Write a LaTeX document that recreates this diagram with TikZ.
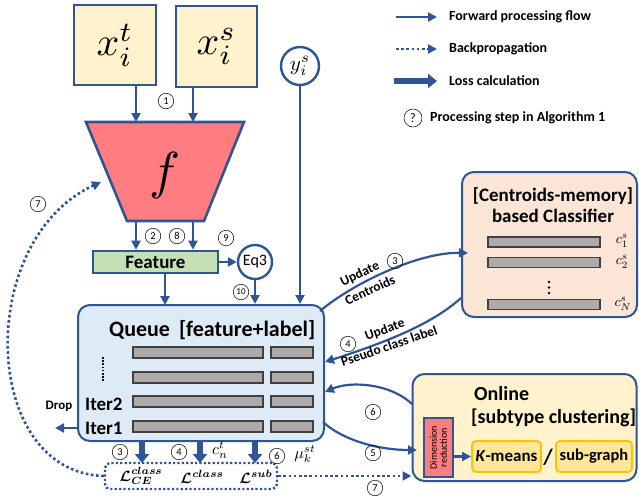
\documentclass[tikz,border=0pt]{standalone}
\usepackage{amsmath,bm}
\usepackage{graphicx}
\usepackage{fontspec}
\setmainfont{Carlito}
\usetikzlibrary{arrows.meta,calc}
\newcommand{\mysm}[2]{\scalebox{#1}{\fontsize{10}{12}\selectfont$#2$}}
\definecolor{myblue}{HTML}{2F5597}
\definecolor{cream}{HTML}{FFF2CC}
\definecolor{salmon}{HTML}{FF7C80}
\definecolor{featgreen}{HTML}{C5E0B4}
\definecolor{qblue}{HTML}{DEEBF7}
\definecolor{peach}{HTML}{FBE5D6}
\definecolor{goldfill}{HTML}{FFE699}
\definecolor{goldline}{HTML}{FFC000}
\definecolor{barfill}{HTML}{AEAAAA}
\definecolor{barline}{HTML}{404040}
\tikzset{
  box/.style={draw=myblue, line width=2.6pt},
  rbox/.style={draw=myblue, line width=2pt, rounded corners=12pt},
  fwd/.style={draw=myblue, line width=2.2pt, -{Triangle[width=9pt,length=9pt]}},
  back/.style={draw=myblue, line width=2.6pt, dash pattern=on 2.6pt off 2.6pt, -{Triangle[width=9pt,length=9pt]}},
  loss/.style={draw=myblue, line width=6pt, -{Triangle[width=14pt,length=9pt]}},
  stepnum/.style={circle, draw=black, line width=0.5pt, minimum size=15.5pt, inner sep=0pt, font=\fontsize{10.5}{10.5}\selectfont},
  bar/.style={draw=barline, fill=barfill, line width=1.6pt, inner sep=0pt},
  btext/.style={font=\bfseries\fontsize{#1}{#1}\selectfont},
  btext/.default=14,
  mtext/.style={inner sep=0pt}
}
\begin{document}
\begin{tikzpicture}[x=1pt,y=-1pt]
\useasboundingbox (0,0) rectangle (639,499);

% inputs
\node[box, fill=cream, minimum width=82pt, minimum height=80pt] (xt) at (115,45) {\mysm{4}{x_i^t}};
\node[box, fill=cream, minimum width=81pt, minimum height=81pt] (xs) at (216.5,46.5) {\mysm{4}{x_i^s}};
\node[circle, draw=myblue, line width=2.4pt, fill=white, minimum size=38pt, inner sep=0pt] (ys) at (300,66) {\mysm{2.1}{y_i^s}};

% trapezoid f
\coordinate (ftl) at (86,122); \coordinate (ftr) at (244,122);
\coordinate (fbr) at (204,221); \coordinate (fbl) at (127,221);
\draw[box, fill=salmon, line join=miter] (ftl) -- (ftr) -- (fbr) -- (fbl) -- cycle;
\node (f) at (165,175) {\mysm{5.2}{f}};
\coordinate (ftA) at (136,122); \coordinate (ftB) at (193,122);
\coordinate (fbA) at (136,221); \coordinate (fbB) at (193,221);

\draw[fwd] (xt.south -| ftA) -- (ftA);
\draw[fwd] (xs.south -| ftB) -- (ftB);

% feature and Eq3
\node[box, fill=featgreen, minimum width=125pt, minimum height=22pt, inner sep=0pt, btext=19] (feat) at (155.5,262) {Feature};
\node[circle, draw=myblue, line width=2.4pt, fill=white, minimum size=34pt, inner sep=0pt, font=\fontsize{16}{16}\selectfont] (eq3) at (255,262) {Eq3};
\draw[fwd] (fbA) -- (fbA |- feat.north);
\draw[fwd] (fbB) -- (fbB |- feat.north);
\draw[fwd] (feat.east) -- (eq3.west);

% queue
\node[rbox, fill=qblue, minimum width=246pt, minimum height=136pt] (queue) at (201,373) {};
\node[btext=22, anchor=west, inner sep=0pt] (qtitle) at (109,330) {Queue\hspace{9pt}[feature+label]};
\coordinate (qa) at (165,305);
\draw[fwd] (feat.south -| qa) -- (qa);
\draw[fwd] (eq3.south) -- (eq3.south |- queue.north);
\draw[fwd] (ys.south) -- (ys.south |- queue.north);

\foreach \y/\n in {352.5/1,377.5/2,401.5/3,426.5/4}{
  \node[bar, minimum width=130pt, minimum height=11pt] (qbl\n) at (198,\y) {};
  \node[bar, minimum width=42pt, minimum height=11pt] (qbr\n) at (292,\y) {};
}
\draw[black, line width=2pt, dash pattern=on 1.6pt off 1.6pt] (103,357) -- (103,382);
\node[btext=19, anchor=west, inner sep=0pt] (it2) at (85,404) {Iter2};
\node[btext=19, anchor=west, inner sep=0pt] (it1) at (85,428) {Iter1};
\node[btext=13, inner sep=0pt] (drop) at (59,406) {Drop};
\coordinate (dropend) at (55,428);
\draw[fwd] (queue.west |- it1) -- (dropend);

% losses
\node[draw=myblue, line width=2.4pt, dash pattern=on 2.2pt off 2.2pt, rounded corners=5pt, minimum width=172pt, minimum height=26pt] (lossbox) at (191,476) {};
\node[mtext] (lce) at (141,476) {\mysm{1.5}{\bm{\mathcal{L}_{CE}^{class}}}};
\node[mtext] (lcl) at (202,477) {\mysm{1.5}{\bm{\mathcal{L}^{class}}}};
\node[mtext] (lsub) at (256,477) {\mysm{1.5}{\bm{\mathcal{L}^{sub}}}};
\coordinate (la) at (142,463); \coordinate (lb) at (200,463); \coordinate (lc) at (255,463);
\draw[loss] (queue.south -| la) -- (la);
\draw[loss] (queue.south -| lb) -- (lb);
\draw[loss] (queue.south -| lc) -- (lc);
\node[stepnum] (s3b) at (120,452) {3};
\node[stepnum] (s4b) at (179,452) {4};
\node[mtext] (cnt) at (220,450) {\mysm{1.6}{c_n^t}};
\node[stepnum] (s6b) at (277,456) {6};
\node[mtext] (mu) at (305,454) {\mysm{1.6}{\mu_k^{st}}};

% classifier
\node[rbox, fill=peach, minimum width=175pt, minimum height=145pt] (cls) at (549.5,244.5) {};
\node[btext=19, align=center] (clstitle) at (553,205) {[Centroids-memory]\\[2pt]based Classifier};
\node[bar, minimum width=112pt, minimum height=10pt] (cb1) at (544,242) {};
\node[bar, minimum width=112pt, minimum height=10pt] (cb2) at (544,262.5) {};
\node[bar, minimum width=112pt, minimum height=10pt] (cb3) at (544,304.5) {};
\node[mtext] (c1) at (622,241) {\mysm{1.4}{c_1^s}};
\node[mtext] (c2) at (622,262) {\mysm{1.4}{c_2^s}};
\node[mtext] (cN) at (623,304) {\mysm{1.4}{c_N^s}};
\foreach \y in {282,287.5,293} \fill[black] (549,\y) circle (1.3pt);

% online clustering
\node[rbox, fill=cream, minimum width=224pt, minimum height=107pt] (online) at (524.5,427.5) {};
\node[btext=20, anchor=west, inner sep=0pt] (ontitle) at (474,394) {Online};
\node[btext=20, anchor=west, inner sep=0pt] (onsub) at (471,418) {[subtype clustering]};
\node[draw=myblue, line width=1.8pt, fill=salmon, minimum width=29pt, minimum height=59pt, inner sep=0pt] (dim) at (438.5,447.5) {};
\node[rotate=90, align=center, inner sep=0pt, font=\fontsize{10}{10}\selectfont] (dimt) at (438.5,447.5) {Dimension\\reduction};
\node[draw=goldline, fill=goldfill, line width=1.8pt, rounded corners=4pt, minimum width=69pt, minimum height=31pt, inner sep=0pt, btext=17] (km) at (506.5,456.5) {\textit{K}-means};
\node[btext=22, inner sep=0pt] (slash) at (548,457) {/};
\node[draw=goldline, fill=goldfill, line width=1.8pt, rounded corners=4pt, minimum width=76pt, minimum height=31pt, inner sep=0pt, btext=16.5] (sg) at (594,456.5) {sub-graph};
\draw[fwd] (dim.east |- km.west) -- (km.west);

% curved connections
\coordinate (q3) at (320,311);
\coordinate (cin) at (468,253);
\draw[fwd] (q3) .. controls (352,284) and (418,252) .. (cin);
\node[btext=13.5, rotate=25, inner sep=0pt] (upd3) at (360,274) {Update};
\node[stepnum] (s3c) at (395,261) {3};
\node[btext=13.5, rotate=25, inner sep=0pt] (cent) at (370,290) {Centroids};

\coordinate (cout) at (461,298);
\coordinate (q4) at (325,362);
\draw[fwd] (cout) .. controls (430,326) and (380,344) .. (q4);
\node[stepnum] (s4c) at (348,344) {4};
\node[btext=13.5, rotate=20, inner sep=0pt] (upd4) at (385,330) {Update};
\node[btext=13.5, rotate=19, inner sep=0pt] (pcl) at (389,346) {Pseudo class label};

\coordinate (o6) at (412,404);
\coordinate (q6) at (325,392);
\draw[fwd] (o6) .. controls (390,383) and (350,381) .. (q6);
\node[stepnum] (s6c) at (373,412) {6};

\coordinate (q5) at (323,422);
\coordinate (o5) at (417,450);
\draw[fwd] (q5) .. controls (345,442) and (382,450) .. (o5);
\node[stepnum] (s5c) at (373,453) {5};

\draw[back] (lossbox.east) -- (online.west |- lossbox.east);
\node[stepnum] (s7b) at (375,488) {7};

\coordinate (fback) at (101,182);
\draw[back] (lossbox.west) .. controls (-20,472) and (-25,240) .. (fback);
\node[stepnum] (s7a) at (38,204) {7};

% step numbers near f
\node[stepnum] (s1) at (166,101) {1};
\node[stepnum] (s2) at (153,236) {2};
\node[stepnum] (s8) at (177,236) {8};
\node[stepnum] (s9) at (226,238) {9};
\node[stepnum] (s10) at (241,292) {\fontsize{9}{9}\selectfont 10};

% legend
\coordinate (l1a) at (396,17); \coordinate (l1b) at (437,17);
\coordinate (l2a) at (396,49); \coordinate (l2b) at (437,49);
\coordinate (l3a) at (394,81); \coordinate (l3b) at (437,81);
\draw[fwd] (l1a) -- (l1b);
\draw[back] (l2a) -- (l2b);
\draw[loss] (l3a) -- (l3b);
\node[btext=14, anchor=west, inner sep=0pt] (lt1) at (449,17) {Forward processing flow};
\node[btext=14, anchor=west, inner sep=0pt] (lt2) at (449,49) {Backpropagation};
\node[btext=14, anchor=west, inner sep=0pt] (lt3) at (449,81) {Loss calculation};
\node[stepnum, minimum size=18pt, font=\fontsize{13}{13}\selectfont] (lq) at (413,118) {?};
\node[btext=14, anchor=west, inner sep=0pt] (lt4) at (430,118) {Processing step in Algorithm 1};
\end{tikzpicture}
\end{document}
